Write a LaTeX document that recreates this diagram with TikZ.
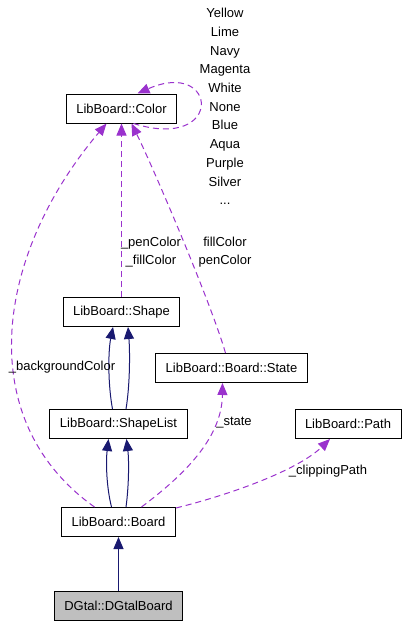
\documentclass[tikz,border=0pt]{standalone}
\usepackage{fontspec}
\setmainfont{Liberation Sans}
\usetikzlibrary{arrows.meta,positioning,calc}
\definecolor{dxpurple}{HTML}{9A32CD}
\definecolor{dxnavy}{HTML}{191970}
\definecolor{dxgray}{HTML}{BFBFBF}

\begin{document}
\begin{tikzpicture}[
 x=1pt,y=-1pt,
 font=\fontsize{13pt}{18.7pt}\selectfont,
 cls/.style={rectangle,draw=black,line width=1pt,minimum height=29pt,inner xsep=10pt,inner ysep=0pt},
 inh/.style={draw=dxnavy,line width=1pt,-{Triangle[length=12pt,width=10pt]}},
 usg/.style={draw=dxpurple,line width=1pt,dash pattern=on 6pt off 4pt,-{Triangle[length=12pt,width=10pt]}},
 lbl/.style={align=center,inner sep=0pt}]
\useasboundingbox (0,0) rectangle (410,627);
% classes
\node[cls] (color) at (121.5,108.5) {LibBoard::Color};
\node[cls] (shape) at (121.5,312) {LibBoard::Shape};
\node[cls] (state) at (231.5,368) {LibBoard::Board::State};
\node[cls] (shapelist) at (118.5,424) {LibBoard::ShapeList};
\node[cls] (path) at (348,424) {LibBoard::Path};
\node[cls] (board) at (118.5,522) {LibBoard::Board};
\node[cls,fill=dxgray] (dgtal) at (118.5,605.5) {DGtal::DGtalBoard};
% inheritance
\draw[inh] (dgtal) -- (board);
\draw[inh] ([xshift=-7pt]board.north) .. controls (106,485) and (106,460) .. ([xshift=-10pt]shapelist.south);
\draw[inh] ([xshift=7.5pt]board.north) .. controls (129,485) and (129,460) .. ([xshift=8pt]shapelist.south);
\draw[inh] ([xshift=-6pt]shapelist.north) .. controls (108,385) and (108,352) .. ([xshift=-8.5pt]shape.south);
\draw[inh] ([xshift=7.5pt]shapelist.north) .. controls (130,385) and (130,352) .. ([xshift=6.5pt]shape.south);
% usage
\draw[usg] (shape) -- (color);
\draw[usg] ([xshift=-6pt]state.north) .. controls (210,300) and (152,165) .. ([xshift=10pt]color.south);
\draw[usg] ([xshift=-24pt]board.north) .. controls (-28,420) and (-5,255) .. ([xshift=-15pt]color.south);
\draw[usg] ([xshift=12pt]color.south) .. controls (225,152) and (218,58) .. ([xshift=16pt]color.north);
\draw[usg] ([xshift=23pt]board.north) .. controls (180,478) and (222,440) .. ([xshift=-9pt]state.south);
\draw[usg] ([yshift=-1pt]board.north east) .. controls (240,492) and (300,468) .. ([xshift=-18pt]path.south);
% labels
\node[lbl] (lcolors) at (225,106.5) {Yellow\\Lime\\Navy\\Magenta\\White\\None\\Blue\\Aqua\\Purple\\Silver\\...};
\node[lbl] (lpen) at (151,252) {\_penColor\\\_fillColor};
\node[lbl] (lfill) at (225,252) {fillColor\\penColor};
\node[lbl] (lback) at (62,367) {\_backgroundColor};
\node[lbl] (lstate) at (234,423) {\_state};
\node[lbl] (lclip) at (328,471) {\_clippingPath};
\end{tikzpicture}
\end{document}
